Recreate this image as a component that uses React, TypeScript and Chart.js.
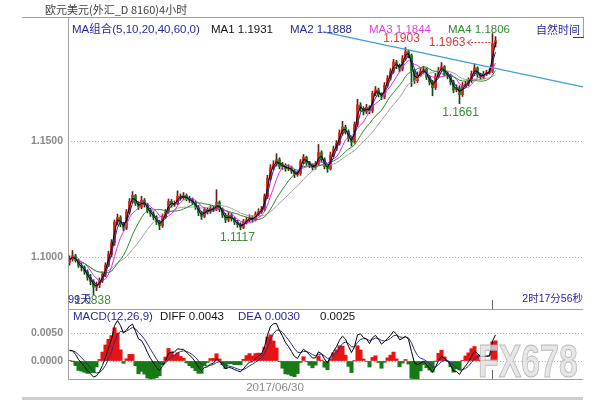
import React, { useEffect, useRef } from "react";
import { Chart, registerables } from "chart.js";

Chart.register(...registerables);

// ---------- data (4-hour EUR/USD bars) ----------
const firstOpen = 1.0975;

const closes = [
  1.0990, 1.1005, 1.0985, 1.0962, 1.0955, 1.0935, 1.0912, 1.0895, 1.0870, 1.0880,
  1.0898, 1.0925, 1.0965, 1.1010, 1.1060, 1.1150, 1.1170, 1.1140, 1.1125, 1.1195,
  1.1240, 1.1265, 1.1230, 1.1215, 1.1245, 1.1225, 1.1200, 1.1185, 1.1170, 1.1150,
  1.1135, 1.1175, 1.1195, 1.1240, 1.1225, 1.1230, 1.1262, 1.1255, 1.1265, 1.1250,
  1.1245, 1.1235, 1.1215, 1.1190, 1.1175, 1.1205, 1.1195, 1.1210, 1.1205, 1.1235,
  1.1205, 1.1180, 1.1160, 1.1180, 1.1165, 1.1150, 1.1140, 1.1128, 1.1150, 1.1160,
  1.1170, 1.1160, 1.1185, 1.1195, 1.1205, 1.1260, 1.1340, 1.1385, 1.1400, 1.1420,
  1.1390, 1.1395, 1.1380, 1.1385, 1.1370, 1.1355, 1.1360, 1.1410, 1.1430, 1.1405,
  1.1395, 1.1385, 1.1400, 1.1450, 1.1420, 1.1390, 1.1380, 1.1440, 1.1465, 1.1490,
  1.1535, 1.1560, 1.1540, 1.1510, 1.1495, 1.1570, 1.1655, 1.1640, 1.1625, 1.1645,
  1.1630, 1.1705, 1.1720, 1.1700, 1.1690, 1.1740, 1.1770, 1.1800, 1.1840, 1.1825,
  1.1810, 1.1855, 1.1885, 1.1870, 1.1800, 1.1760, 1.1785, 1.1800, 1.1810, 1.1775,
  1.1755, 1.1730, 1.1780, 1.1805, 1.1820, 1.1790, 1.1780, 1.1755, 1.1720, 1.1730,
  1.1700, 1.1740, 1.1745, 1.1760, 1.1790, 1.1815, 1.1785, 1.1775, 1.1790, 1.1795,
  1.1800, 1.1920, 1.1932,
];

const highs = [
  1.1005, 1.1028, 1.1012, 1.0992, 1.0975, 1.0962, 1.0945, 1.0925, 1.0902, 1.0892,
  1.0910, 1.0935, 1.0975, 1.1025, 1.1075, 1.1160, 1.1185, 1.1178, 1.1150, 1.1205,
  1.1252, 1.1282, 1.1270, 1.1238, 1.1262, 1.1252, 1.1232, 1.1210, 1.1195, 1.1178,
  1.1158, 1.1185, 1.1205, 1.1250, 1.1248, 1.1242, 1.1285, 1.1272, 1.1278, 1.1272,
  1.1262, 1.1255, 1.1242, 1.1222, 1.1198, 1.1215, 1.1212, 1.1222, 1.1218, 1.1290,
  1.1242, 1.1212, 1.1188, 1.1192, 1.1188, 1.1172, 1.1158, 1.1148, 1.1162, 1.1172,
  1.1182, 1.1178, 1.1195, 1.1208, 1.1218, 1.1272, 1.1352, 1.1398, 1.1415, 1.1445,
  1.1428, 1.1408, 1.1402, 1.1398, 1.1392, 1.1378, 1.1372, 1.1420, 1.1442, 1.1435,
  1.1412, 1.1402, 1.1412, 1.1485, 1.1458, 1.1428, 1.1398, 1.1452, 1.1478, 1.1502,
  1.1548, 1.1585, 1.1568, 1.1548, 1.1518, 1.1582, 1.1680, 1.1665, 1.1648, 1.1658,
  1.1652, 1.1715, 1.1735, 1.1728, 1.1708, 1.1752, 1.1782, 1.1812, 1.1852, 1.1848,
  1.1832, 1.1868, 1.1903, 1.1892, 1.1875, 1.1808, 1.1798, 1.1812, 1.1822, 1.1815,
  1.1782, 1.1762, 1.1792, 1.1818, 1.1838, 1.1825, 1.1798, 1.1788, 1.1762, 1.1742,
  1.1738, 1.1752, 1.1758, 1.1772, 1.1802, 1.1832, 1.1820, 1.1792, 1.1800, 1.1805,
  1.1812, 1.1963, 1.1950,
];

const lows = [
  1.0965, 1.0982, 1.0978, 1.0955, 1.0940, 1.0925, 1.0900, 1.0880, 1.0838, 1.0855,
  1.0868, 1.0890, 1.0915, 1.0958, 1.1000, 1.1050, 1.1138, 1.1130, 1.1112, 1.1118,
  1.1185, 1.1232, 1.1222, 1.1205, 1.1208, 1.1215, 1.1190, 1.1175, 1.1160, 1.1140,
  1.1118, 1.1128, 1.1165, 1.1188, 1.1215, 1.1218, 1.1225, 1.1245, 1.1248, 1.1242,
  1.1235, 1.1225, 1.1205, 1.1178, 1.1162, 1.1170, 1.1185, 1.1188, 1.1195, 1.1200,
  1.1195, 1.1170, 1.1148, 1.1152, 1.1155, 1.1140, 1.1128, 1.1117, 1.1122, 1.1142,
  1.1152, 1.1150, 1.1155, 1.1178, 1.1188, 1.1198, 1.1252, 1.1332, 1.1375, 1.1392,
  1.1380, 1.1378, 1.1370, 1.1372, 1.1360, 1.1342, 1.1348, 1.1352, 1.1402, 1.1395,
  1.1385, 1.1375, 1.1378, 1.1395, 1.1410, 1.1380, 1.1365, 1.1375, 1.1432, 1.1458,
  1.1482, 1.1525, 1.1530, 1.1498, 1.1478, 1.1490, 1.1562, 1.1628, 1.1612, 1.1618,
  1.1618, 1.1622, 1.1695, 1.1690, 1.1678, 1.1682, 1.1732, 1.1762, 1.1792, 1.1812,
  1.1798, 1.1802, 1.1848, 1.1858, 1.1735, 1.1748, 1.1752, 1.1778, 1.1792, 1.1765,
  1.1742, 1.1695, 1.1722, 1.1772, 1.1798, 1.1780, 1.1768, 1.1742, 1.1708, 1.1712,
  1.1661, 1.1692, 1.1732, 1.1738, 1.1752, 1.1782, 1.1775, 1.1765, 1.1768, 1.1782,
  1.1788, 1.1795, 1.1905,
];

// moving-average periods in these (coarser) bars, and MACD parameters
const maPeriods = [2, 3, 6, 12, 18];
const macdPeriods = [3.6, 8.5, 4.5];
const macdSeeds = [1.099, 1.0966, 0.0018];

// axis ranges and ticks
const priceMin = 1.07759;
const priceMax = 1.20302;
const priceTicks = [1.1, 1.15];
const macdMin = -0.003214;
const macdMax = 0.009286;
const macdTicks = [0, 0.005];
const xMin = -0.5;
const xMax = 171.1667;

// trend line annotation
const trendLine = [
  { x: 84.5, y: 1.197 },
  { x: 171.1667, y: 1.1733 },
];

// header texts
const title = "欧元美元(外汇_D 8160)4小时";
const maHeader = [
  { text: "MA组合(5,10,20,40,60,0)", x: 72, color: "#2828a0" },
  { text: "MA1 1.1931", x: 211, color: "#111111" },
  { text: "MA2 1.1888", x: 290, color: "#2828a0" },
  { text: "MA3 1.1844", x: 369, color: "#e040e0" },
  { text: "MA4 1.1806", x: 448, color: "#2f8a2f" },
];
const timeModeText = "自然时间";
const macdHeader = [
  { text: "MACD(12,26,9)", x: 73, color: "#2828a0" },
  { text: "DIFF 0.0043", x: 160, color: "#111111" },
  { text: "DEA 0.0030", x: 238, color: "#2828a0" },
  { text: "0.0025", x: 320, color: "#111111" },
];
const countdownText = "2时17分56秒";
const daysText = "99天";
const dateLabel = "2017/06/30";
const dateBar = 68.5;
const cursorBar = 141;

const priceMarks = [
  { bar: 112, value: 1.1903, text: "1.1903", color: "#d43c3c", dx: -4, dy: -9 },
  { bar: 130, value: 1.1661, text: "1.1661", color: "#3a8c3a", dx: 1, dy: 9 },
  { bar: 57, value: 1.1117, text: "1.1117", color: "#3a8c3a", dx: -3, dy: 8 },
  { bar: 8, value: 1.0838, text: "1.0838", color: "#3a8c3a", dx: -1, dy: 6 },
];
const arrowMark = { bar: 141, value: 1.1963, text: "1.1963", color: "#d43c3c" };

// ---------- styling ----------
const latinFont = '"Liberation Sans", "Noto Sans CJK SC", sans-serif';
const cjkFont = '"Noto Sans CJK SC", "Liberation Sans", sans-serif';
const upColor = "#e41e12";
const downColor = "#1c7a1c";
const upWick = "#6a1e12";
const downWick = "#17401a";
const maColors = ["#000000", "#24249c", "#e030e0", "#2a8a2a", "#a0a0a0"];
const frameColor = "#a0a0a0";
const navy = "#2828a0";

// ---------- derived series ----------
const opens = closes.map((c, i) => (i === 0 ? firstOpen : closes[i - 1]));

function sma(values: number[], n: number) {
  return values.map((_, i) => {
    const s = Math.max(0, i - n + 1);
    const sl = values.slice(s, i + 1);
    return sl.reduce((a, b) => a + b, 0) / sl.length;
  });
}
function ema(values: number[], n: number, seed: number) {
  const a = 2 / (n + 1);
  let e = seed;
  return values.map((v) => (e = a * v + (1 - a) * e));
}

const maSeries = maPeriods.map((n) => sma(closes, n));
const emaFast = ema(closes, macdPeriods[0], macdSeeds[0]);
const emaSlow = ema(closes, macdPeriods[1], macdSeeds[1]);
const diff = emaFast.map((f, i) => f - emaSlow[i]);
const dea = ema(diff, macdPeriods[2], macdSeeds[2]);
const hist = diff.map((d, i) => 2 * (d - dea[i]));

// ---------- helpers ----------
function hline(ctx: CanvasRenderingContext2D, x1: number, x2: number, y: number) {
  ctx.beginPath();
  ctx.moveTo(x1, y);
  ctx.lineTo(x2, y);
  ctx.stroke();
}
function vline(ctx: CanvasRenderingContext2D, x: number, y1: number, y2: number) {
  ctx.beginPath();
  ctx.moveTo(x, y1);
  ctx.lineTo(x, y2);
  ctx.stroke();
}

function yAxis(min: number, max: number, ticks: number[]) {
  return {
    type: "linear" as const,
    position: "left" as const,
    min,
    max,
    afterBuildTicks: (s: any) => {
      s.ticks = ticks.map((v) => ({ value: v }));
    },
    afterFit: (s: any) => {
      s.width = 68;
      s.paddingTop = 0;
      s.paddingBottom = 0;
    },
    grid: { color: "#b0b0b0", lineWidth: 1, drawTicks: false },
    border: { display: false, dash: [1, 2] },
    ticks: {
      padding: 5,
      color: "#8a8a8a",
      font: { family: "Liberation Sans", size: 10.5, weight: "bold" as const },
      callback: (v: any) => Number(v).toFixed(4),
    },
  };
}

const xAxis = {
  type: "linear" as const,
  min: xMin,
  max: xMax,
  display: false,
  offset: false,
};

const mainDecor = {
  id: "mainDecor",
  afterDraw(chart: any) {
    const { ctx, chartArea: ca, scales } = chart;
    const xs = scales.x;
    const ys = scales.y;
    ctx.save();
    ctx.strokeStyle = frameColor;
    ctx.lineWidth = 1;
    hline(ctx, 22, ca.right, ca.top - 0.5);
    vline(ctx, ca.left + 0.5, ca.top, ca.bottom);
    vline(ctx, ca.right + 0.5, ca.top - 1, ca.top + 19);
    ctx.strokeStyle = "#444";
    hline(ctx, ca.right - 10, ca.right + 1, ca.top + 19.5);

    ctx.textBaseline = "middle";
    ctx.textAlign = "left";
    ctx.font = `11px ${cjkFont}`;
    ctx.fillStyle = "#3c3c3c";
    ctx.fillText(title, 45, 10);

    ctx.font = `11.5px ${latinFont}`;
    maHeader.forEach((h) => {
      ctx.fillStyle = h.color;
      ctx.fillText(h.text, h.x, 30);
    });
    ctx.font = `11px ${cjkFont}`;
    ctx.fillStyle = navy;
    ctx.fillText(timeModeText, 536, 30);

    // price marks
    ctx.font = `12px ${latinFont}`;
    ctx.textAlign = "center";
    priceMarks.forEach((m) => {
      ctx.fillStyle = m.color;
      ctx.fillText(m.text, xs.getPixelForValue(m.bar) + m.dx, ys.getPixelForValue(m.value) + m.dy);
    });

    // 1.1963 with dashed arrow
    const bx = xs.getPixelForValue(arrowMark.bar);
    const ay = Math.round(ys.getPixelForValue(arrowMark.value) + 8) + 0.5;
    ctx.textAlign = "right";
    ctx.fillStyle = arrowMark.color;
    ctx.fillText(arrowMark.text, bx - 27, ay);
    ctx.strokeStyle = arrowMark.color;
    ctx.setLineDash([2, 1.5]);
    hline(ctx, bx - 25, bx, ay);
    ctx.setLineDash([]);
    ctx.beginPath();
    ctx.moveTo(bx - 21, ay - 3);
    ctx.lineTo(bx - 25, ay);
    ctx.lineTo(bx - 21, ay + 3);
    ctx.stroke();

    // days label
    ctx.textAlign = "left";
    ctx.font = `11px ${latinFont}`;
    ctx.fillStyle = navy;
    ctx.fillText(daysText, ca.left, 300);

    // countdown
    ctx.textAlign = "right";
    ctx.font = `10.5px ${latinFont}`;
    ctx.fillStyle = navy;
    ctx.fillText(countdownText, ca.right, 299);

    // cursor tick
    ctx.strokeStyle = "#666";
    vline(ctx, Math.round(xs.getPixelForValue(cursorBar)) + 0.5, ca.bottom - 9, ca.bottom);
    ctx.restore();
  },
};

const macdDecor = {
  id: "macdDecor",
  afterDraw(chart: any) {
    const { ctx, chartArea: ca, scales } = chart;
    const xs = scales.x;
    ctx.save();
    ctx.strokeStyle = frameColor;
    ctx.lineWidth = 1;
    hline(ctx, ca.left, ca.right, ca.top + 0.5);
    hline(ctx, ca.left, ca.right, ca.bottom + 0.5);
    vline(ctx, ca.left + 0.5, 0, ca.bottom + 1);

    ctx.textBaseline = "middle";
    ctx.textAlign = "left";
    ctx.font = `11.5px ${latinFont}`;
    macdHeader.forEach((h) => {
      ctx.fillStyle = h.color;
      ctx.fillText(h.text, h.x, 8);
    });

    ctx.textAlign = "center";
    ctx.fillStyle = "#8a8a8a";
    ctx.font = `11.5px ${latinFont}`;
    ctx.fillText(dateLabel, xs.getPixelForValue(dateBar), 79);

    // cursor tick
    ctx.strokeStyle = "#666";
    vline(ctx, Math.round(xs.getPixelForValue(cursorBar)) + 0.5, ca.bottom - 9, ca.bottom);

    // watermark
    ctx.save();
    ctx.translate(478, ca.bottom - 2);
    ctx.scale(0.72, 1);
    ctx.textAlign = "left";
    ctx.textBaseline = "alphabetic";
    ctx.font = `bold 47px ${latinFont}`;
    ctx.fillStyle = "rgba(224,224,224,0.8)";
    ctx.fillText("FX678", 0, 0);
    ctx.strokeStyle = "rgba(165,165,165,0.75)";
    ctx.lineWidth = 1;
    ctx.strokeText("FX678", 0, 0);
    ctx.restore();

    // bottom bar
    ctx.fillStyle = "#cfcfcf";
    ctx.fillRect(22, 88, ca.right - 22, 3);
    ctx.restore();
  },
};

function mainConfig(): any {
  const candleColors = closes.map((c, i) => (c >= opens[i] ? upColor : downColor));
  const wickColors = closes.map((c, i) => (c >= opens[i] ? upWick : downWick));
  return {
    type: "bar",
    data: {
      datasets: [
        {
          type: "line",
          label: "trend",
          data: trendLine,
          borderColor: "#3d9fd6",
          borderWidth: 1.3,
          pointRadius: 0,
          order: 0,
        },
        ...maSeries.map((s, k) => ({
          type: "line",
          label: `MA${k + 1}`,
          data: s.map((v, i) => ({ x: i, y: v })),
          borderColor: maColors[k],
          borderWidth: 1,
          pointRadius: 0,
          tension: 0,
          order: 1 + k,
        })),
        {
          type: "bar",
          label: "body",
          data: closes.map((c, i) => ({ x: i, y: [opens[i], c] })),
          backgroundColor: candleColors,
          barThickness: 2,
          minBarLength: 1,
          grouped: false,
          borderWidth: 0,
          order: 8,
        },
        {
          type: "bar",
          label: "wick",
          data: closes.map((_, i) => ({ x: i, y: [lows[i], highs[i]] })),
          backgroundColor: wickColors,
          barThickness: 1,
          grouped: false,
          borderWidth: 0,
          order: 9,
        },
      ],
    },
    options: {
      responsive: false,
      animation: false,
      devicePixelRatio: 1,
      events: [],
      layout: { padding: { top: 18, right: 23, bottom: 0, left: 0 } },
      plugins: { legend: { display: false }, tooltip: { enabled: false } },
      scales: { x: xAxis, y: yAxis(priceMin, priceMax, priceTicks) },
    },
    plugins: [mainDecor],
  };
}

function macdConfig(): any {
  return {
    type: "bar",
    data: {
      datasets: [
        {
          type: "line",
          label: "DIFF",
          data: diff.map((v, i) => ({ x: i, y: v })),
          borderColor: "#000000",
          borderWidth: 1,
          pointRadius: 0,
          order: 0,
        },
        {
          type: "line",
          label: "DEA",
          data: dea.map((v, i) => ({ x: i, y: v })),
          borderColor: "#2a2a8c",
          borderWidth: 1,
          pointRadius: 0,
          order: 1,
        },
        {
          type: "bar",
          label: "MACD",
          data: hist.map((v, i) => ({ x: i, y: v })),
          backgroundColor: hist.map((v) => (v >= 0 ? "#e81414" : "#177a17")),
          barThickness: 3.4,
          grouped: false,
          borderWidth: 0,
          order: 5,
        },
      ],
    },
    options: {
      responsive: false,
      animation: false,
      devicePixelRatio: 1,
      events: [],
      layout: { padding: { top: 0, right: 23, bottom: 21, left: 0 } },
      plugins: { legend: { display: false }, tooltip: { enabled: false } },
      scales: { x: xAxis, y: yAxis(macdMin, macdMax, macdTicks) },
    },
    plugins: [macdDecor],
  };
}

export default function App() {
  const mainRef = useRef<HTMLCanvasElement>(null);
  const macdRef = useRef<HTMLCanvasElement>(null);
  useEffect(() => {
    const main = new Chart(mainRef.current as HTMLCanvasElement, mainConfig());
    const macd = new Chart(macdRef.current as HTMLCanvasElement, macdConfig());
    return () => {
      main.destroy();
      macd.destroy();
    };
  }, []);
  return (
    <div
      style={{
        position: "fixed",
        left: 0,
        top: 0,
        width: 606,
        height: 400,
        background: "#ffffff",
        overflow: "hidden",
      }}
    >
      <canvas
        ref={mainRef}
        width={606}
        height={309}
        style={{ position: "absolute", left: 0, top: 0, width: 606, height: 309 }}
      />
      <canvas
        ref={macdRef}
        width={606}
        height={91}
        style={{ position: "absolute", left: 0, top: 309, width: 606, height: 91 }}
      />
    </div>
  );
}
